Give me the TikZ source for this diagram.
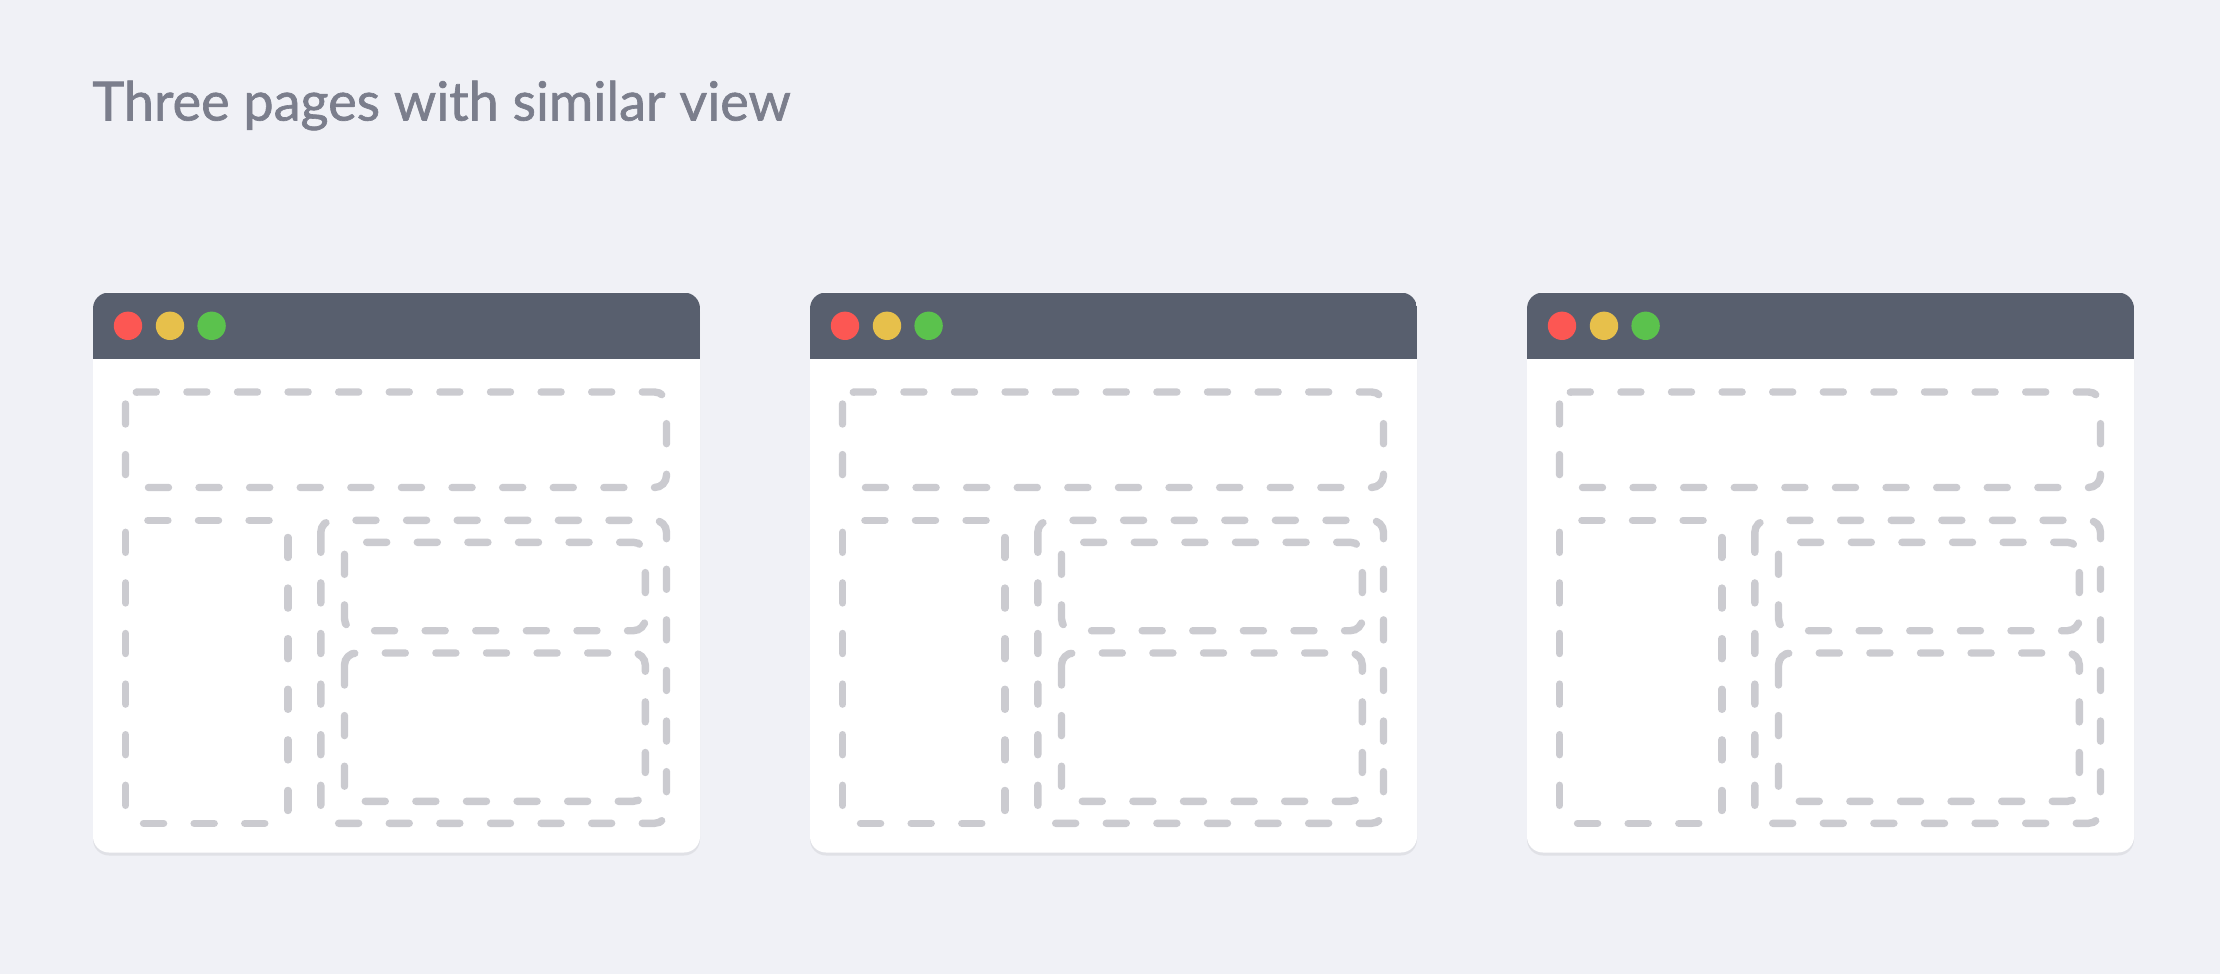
\documentclass[tikz,border=0pt]{standalone}
\usepackage{fontspec}
\setmainfont{Lato}
\newfontfamily\titlefont{Lato}[FakeBold=1.2]
\definecolor{bg}{HTML}{F0F1F6}
\definecolor{barc}{HTML}{585F6E}
\definecolor{dashc}{HTML}{CBCBD0}
\definecolor{titlec}{HTML}{7B7E8C}
\definecolor{shadowc}{HTML}{E0E1E6}
\definecolor{redc}{HTML}{FC5753}
\definecolor{yellowc}{HTML}{E7C04B}
\definecolor{greenc}{HTML}{5BC24D}
\tikzset{
  dbox/.style={draw=dashc, line width=3.7pt, line cap=round, dash pattern=on 10pt off 15.3pt, rounded corners=6pt},
  winbody/.style={fill=white, rounded corners=8pt},
  dot/.style={circle, minimum size=14.2pt, inner sep=0pt},
}
\begin{document}
\begin{tikzpicture}[x=0.5pt,y=-0.5pt]
\fill[bg] (0,0) rectangle (2220,974);
\useasboundingbox (0,0) rectangle (2220,974);
\node[anchor=base west, inner sep=0pt, text=titlec, font=\titlefont\fontsize{27}{30}\selectfont] (title) at (92,120.5) {Three pages with similar view};
\foreach \i/\sx in {1/93, 2/810, 3/1527} {
  \begin{scope}[shift={(\sx,292.5)}]
    \fill[shadowc, rounded corners=8pt] (0,3) rectangle (607,563);
    \path[winbody] (0,0) rectangle (607,560);
    \begin{scope}
      \clip[rounded corners=8pt] (0,0) rectangle (607,560);
      \fill[barc] (0,0) rectangle (607,66);
    \end{scope}
    \node[dot, fill=redc] (r\i) at (35,33.3) {};
    \node[dot, fill=yellowc] (y\i) at (77,33.3) {};
    \node[dot, fill=greenc] (g\i) at (118.6,33.3) {};
    \draw[dbox] (32.5,99.5) rectangle (573.5,195);
    \draw[dbox] (32.7,227.8) rectangle (194.8,530.8);
    \draw[dbox] (227.8,227.8) rectangle (573.5,530.8);
    \draw[dbox] (251.5,249.8) rectangle (552.3,338.2);
    \draw[dbox] (251.5,360.5) rectangle (552.3,508.8);
  \end{scope}
}
\end{tikzpicture}
\end{document}
